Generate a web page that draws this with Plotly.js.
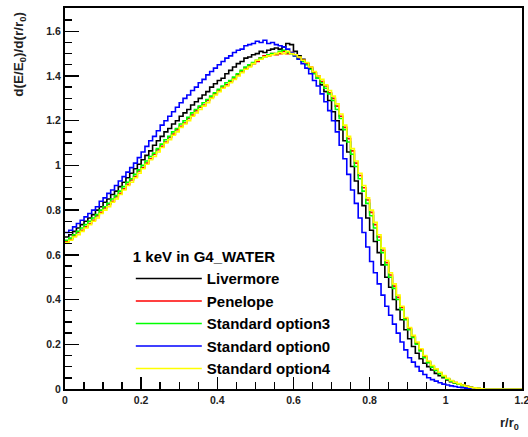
<!DOCTYPE html>
<html>
<head>
<meta charset="utf-8">
<script src="https://cdn.plot.ly/plotly-3.0.1.min.js"></script>
<style>
html,body{margin:0;padding:0;background:#fff;}
#chart{width:528px;height:437px;}
</style>
</head>
<body>
<div id="chart"></div>
<script>
// Histogram bins: width 0.01 from 0 to 1.2 (120 bins)
var binWidth = 0.01;
var nBins = 120;

var seriesNames = ["Livermore", "Penelope", "Standard option3", "Standard option0", "Standard option4"];
var seriesColors = ["#000000", "#ff0000", "#00ff00", "#0000ff", "#ffff00"];

var livermore = [
 0.68,0.69,0.705,0.72,0.735, 0.75,0.765,0.78,0.80,0.815,
 0.835,0.85,0.87,0.885,0.905, 0.925,0.945,0.965,0.985,1.005,
 1.025,1.045,1.065,1.09,1.11, 1.13,1.15,1.165,1.185,1.20,
 1.22,1.235,1.25,1.27,1.285, 1.30,1.315,1.33,1.35,1.365,
 1.38,1.39,1.41,1.425,1.44, 1.455,1.465,1.48,1.485,1.495,
 1.50,1.51,1.505,1.515,1.52, 1.525,1.52,1.53,1.545,1.54,
 1.51,1.49,1.475,1.455,1.435, 1.415,1.39,1.36,1.33,1.29,
 1.24,1.20,1.16,1.11,1.06, 0.995,0.93,0.875,0.82,0.765,
 0.71,0.66,0.61,0.555,0.50, 0.455,0.40,0.355,0.31,0.265,
 0.225,0.19,0.16,0.135,0.115, 0.10,0.085,0.07,0.06,0.05,
 0.04,0.033,0.027,0.021,0.016, 0.012,0.008,0.005,0.002,0,
 0,0,0,0,0, 0,0,0,0,0
];
var penelope = [
 0.66,0.67,0.685,0.70,0.71, 0.725,0.74,0.755,0.775,0.79,
 0.81,0.825,0.84,0.86,0.875, 0.895,0.915,0.935,0.95,0.975,
 0.99,1.01,1.03,1.05,1.07, 1.085,1.105,1.125,1.14,1.16,
 1.175,1.19,1.21,1.225,1.245, 1.26,1.27,1.29,1.305,1.32,
 1.335,1.35,1.36,1.375,1.39, 1.405,1.42,1.435,1.445,1.455,
 1.465,1.48,1.49,1.49,1.50, 1.495,1.50,1.51,1.50,1.505,
 1.495,1.48,1.47,1.455,1.44, 1.415,1.40,1.375,1.355,1.325,
 1.30,1.265,1.22,1.17,1.12, 1.065,1.01,0.955,0.90,0.845,
 0.79,0.735,0.68,0.62,0.565, 0.51,0.46,0.41,0.365,0.315,
 0.27,0.235,0.205,0.175,0.145, 0.122,0.10,0.086,0.072,0.058,
 0.046,0.037,0.029,0.023,0.017, 0.011,0.007,0.005,0.002,0.001,
 0,0,0,0,0, 0,0,0,0,0
];
var option3 = [
 0.665,0.675,0.69,0.705,0.72, 0.735,0.75,0.765,0.78,0.80,
 0.815,0.83,0.85,0.865,0.885, 0.905,0.925,0.94,0.96,0.98,
 1.00,1.02,1.04,1.055,1.075, 1.095,1.115,1.13,1.15,1.165,
 1.185,1.20,1.215,1.235,1.25, 1.265,1.28,1.295,1.31,1.325,
 1.34,1.355,1.37,1.38,1.395, 1.41,1.425,1.44,1.45,1.46,
 1.47,1.48,1.485,1.495,1.50, 1.50,1.51,1.515,1.505,1.50,
 1.49,1.475,1.465,1.45,1.43, 1.41,1.39,1.37,1.345,1.32,
 1.29,1.25,1.21,1.16,1.105, 1.05,0.995,0.94,0.885,0.83,
 0.775,0.72,0.665,0.61,0.555, 0.50,0.45,0.40,0.355,0.31,
 0.265,0.23,0.20,0.17,0.14, 0.118,0.098,0.083,0.068,0.055,
 0.044,0.035,0.027,0.021,0.015, 0.01,0.006,0.004,0.002,0,
 0,0,0,0,0, 0,0,0,0,0
];
var option0 = [
 0.70,0.71,0.725,0.74,0.755, 0.77,0.785,0.80,0.815,0.84,
 0.855,0.875,0.89,0.91,0.93, 0.95,0.97,0.99,1.01,1.035,
 1.06,1.085,1.11,1.13,1.155, 1.18,1.20,1.22,1.24,1.26,
 1.28,1.30,1.315,1.335,1.35, 1.37,1.385,1.405,1.42,1.435,
 1.45,1.465,1.48,1.49,1.505, 1.515,1.52,1.535,1.54,1.545,
 1.555,1.55,1.56,1.545,1.55, 1.54,1.535,1.53,1.52,1.505,
 1.49,1.475,1.455,1.435,1.41, 1.38,1.355,1.32,1.285,1.245,
 1.20,1.15,1.09,1.03,0.96, 0.89,0.83,0.765,0.70,0.635,
 0.57,0.52,0.47,0.42,0.37, 0.33,0.29,0.25,0.21,0.175,
 0.14,0.12,0.10,0.08,0.065, 0.05,0.042,0.035,0.028,0.022,
 0.018,0.014,0.011,0.008,0.006, 0.004,0.003,0.002,0,0,
 0,0,0,0,0, 0,0,0,0,0
];
var option4 = [
 0.655,0.665,0.68,0.69,0.705, 0.72,0.735,0.75,0.765,0.785,
 0.80,0.815,0.835,0.85,0.87, 0.89,0.91,0.925,0.945,0.965,
 0.985,1.005,1.025,1.04,1.06, 1.08,1.10,1.115,1.135,1.15,
 1.17,1.185,1.20,1.22,1.235, 1.25,1.265,1.28,1.30,1.315,
 1.33,1.345,1.355,1.37,1.385, 1.40,1.415,1.43,1.44,1.455,
 1.47,1.475,1.485,1.49,1.495, 1.50,1.505,1.50,1.51,1.50,
 1.495,1.485,1.47,1.46,1.44, 1.42,1.40,1.385,1.36,1.335,
 1.31,1.275,1.23,1.18,1.13, 1.075,1.02,0.965,0.91,0.855,
 0.80,0.745,0.69,0.63,0.575, 0.52,0.47,0.42,0.37,0.32,
 0.275,0.24,0.21,0.18,0.15, 0.125,0.105,0.09,0.075,0.06,
 0.048,0.038,0.03,0.024,0.018, 0.012,0.008,0.005,0.003,0.001,
 0,0,0,0,0, 0,0,0,0,0
];
var seriesValues = [livermore, penelope, option3, option0, option4];

var xTickVals = [0, 0.2, 0.4, 0.6, 0.8, 1, 1.2];
var xTickText = ["0", "0.2", "0.4", "0.6", "0.8", "1", "1.2"];
var yTickVals = [0, 0.2, 0.4, 0.6, 0.8, 1, 1.2, 1.4, 1.6];

// bin edges
var edges = [];
for (var i = 0; i <= nBins; i++) edges.push(+(i * binWidth).toFixed(4));

var traces = seriesValues.map(function (vals, k) {
  return {
    type: 'scatter',
    mode: 'lines',
    name: seriesNames[k],
    x: edges,
    y: vals.concat([vals[vals.length - 1]]),
    line: {shape: 'hv', color: seriesColors[k], width: 1.6},
    hoverinfo: 'x+y+name'
  };
});

var FONT = 'Liberation Sans, Arial, Helvetica, sans-serif';

var layout = {
  width: 528, height: 437,
  margin: {l: 65, r: 6, t: 8, b: 48, pad: 0},
  paper_bgcolor: '#ffffff',
  plot_bgcolor: '#ffffff',
  showlegend: true,
  legend: {
    x: 0.144, y: 0.384, xanchor: 'left', yanchor: 'top',
    bgcolor: 'rgba(0,0,0,0)',
    borderwidth: 0,
    itemwidth: 66,
    tracegroupgap: 0,
    traceorder: 'normal',
    font: {family: FONT, size: 15, color: '#000', weight: 'bold'},
    title: {text: '1 keV in G4_WATER', font: {family: FONT, size: 15, color: '#000', weight: 'bold'}}
  },
  xaxis: {
    range: [0, 1.2002],
    tickvals: xTickVals,
    ticktext: xTickText,
    ticklabeloverflow: 'allow',
    ticks: 'inside', ticklen: 12, tickwidth: 1.4, tickcolor: '#000',
    minor: {dtick: 0.05, ticks: 'inside', ticklen: 7, tickwidth: 1.4, tickcolor: '#000'},
    showline: true, linecolor: '#000', linewidth: 2, mirror: true,
    showgrid: false, zeroline: false,
    layer: 'below traces',
    tickfont: {family: FONT, size: 10.5, color: '#222', weight: 'bold'}
  },
  yaxis: {
    range: [0, 1.704],
    tickvals: yTickVals,
    ticklabeloverflow: 'allow',
    ticks: 'inside', ticklen: 14, tickwidth: 1.4, tickcolor: '#000',
    minor: {dtick: 0.05, ticks: 'inside', ticklen: 7, tickwidth: 1.4, tickcolor: '#000'},
    showline: true, linecolor: '#000', linewidth: 2, mirror: true,
    showgrid: false, zeroline: false,
    tickfont: {family: FONT, size: 10.5, color: '#222', weight: 'bold'}
  },
  annotations: [
    {
      text: 'd(E/E<sub>0</sub>)/d(r/r<sub>0</sub>)',
      xref: 'paper', yref: 'paper',
      x: -0.1, y: 0.995, xanchor: 'center', yanchor: 'top',
      textangle: -90, showarrow: false,
      font: {family: FONT, size: 13.5, color: '#222', weight: 'bold'}
    },
    {
      text: 'r/r<sub>0</sub>',
      xref: 'paper', yref: 'paper',
      x: 0.998, y: -0.09, xanchor: 'right', yanchor: 'middle',
      showarrow: false,
      font: {family: FONT, size: 13, color: '#222', weight: 'bold'}
    }
  ]
};

Plotly.newPlot('chart', traces, layout, {displayModeBar: false, staticPlot: true});
</script>
</body>
</html>
